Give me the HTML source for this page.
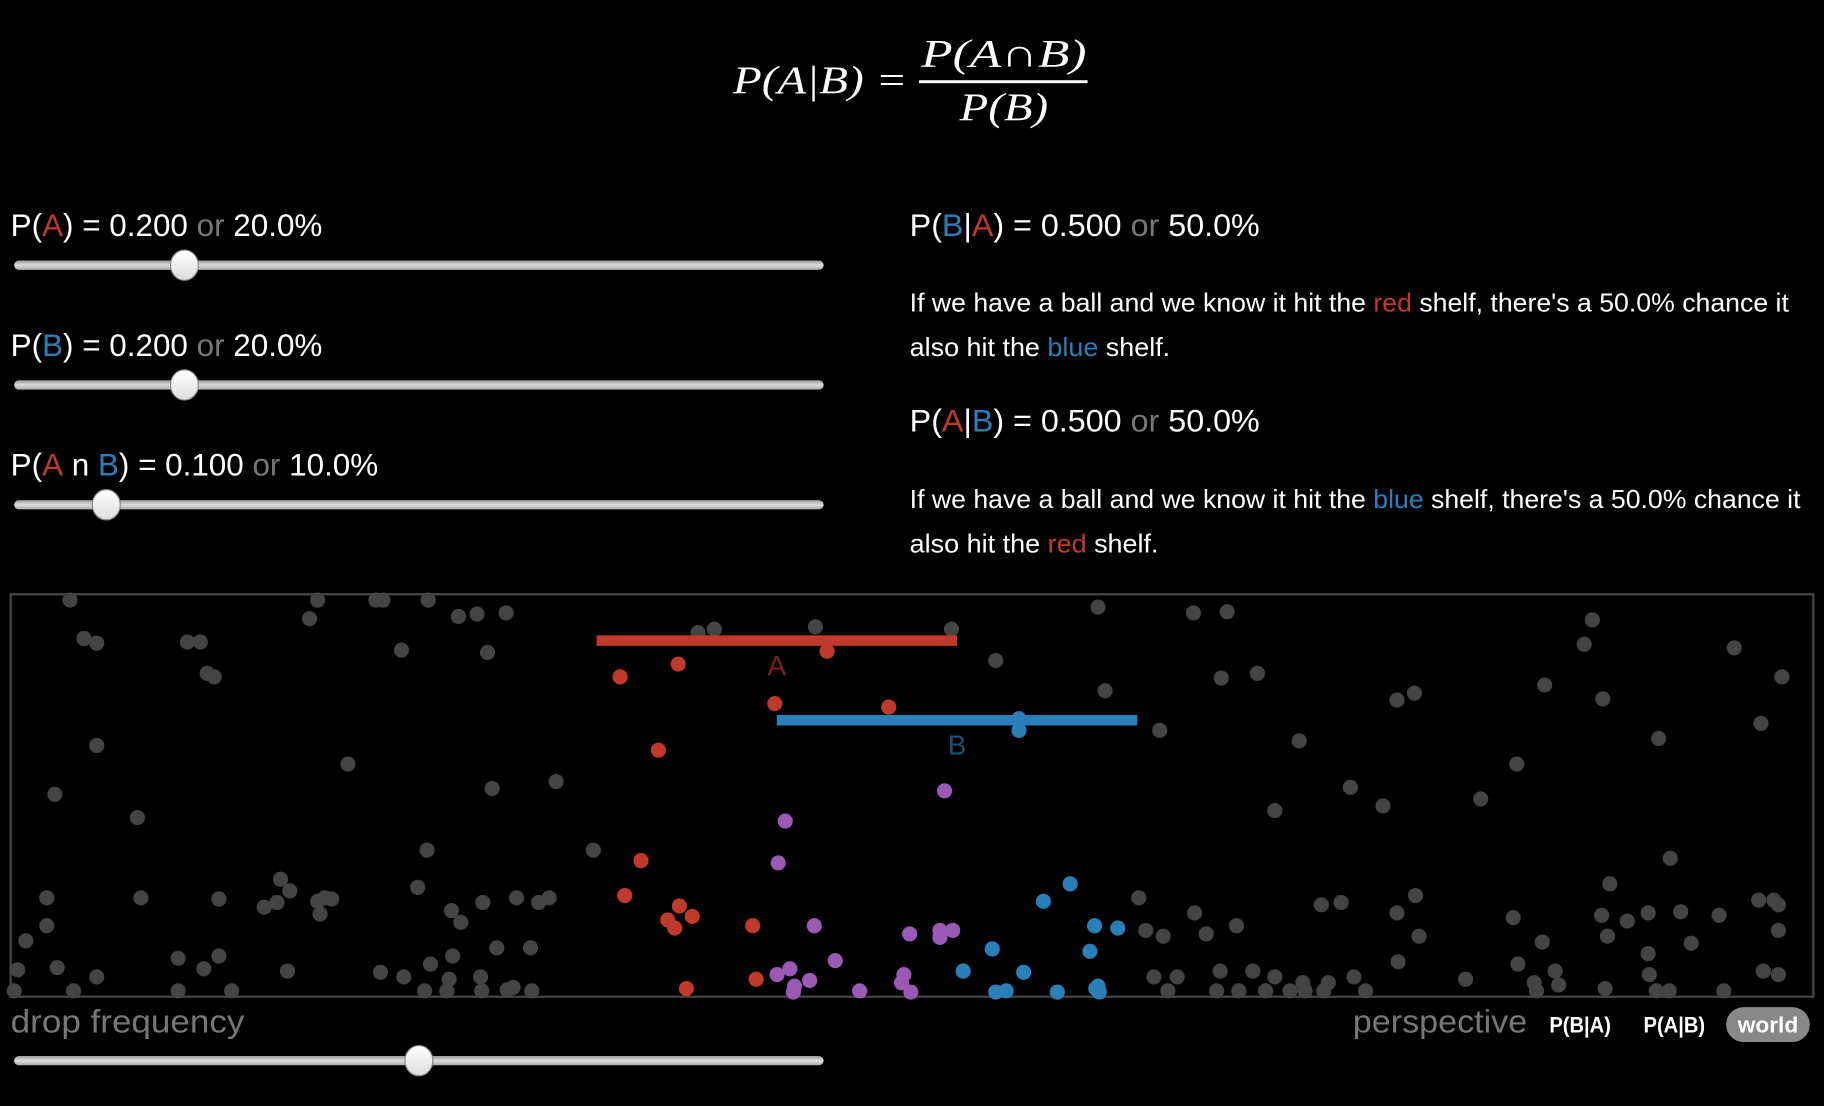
<!DOCTYPE html>
<html><head><meta charset="utf-8"><style>
html,body{margin:0;padding:0;background:#000;width:1824px;height:1106px;overflow:hidden}
svg{display:block}
text{font-family:"Liberation Sans",sans-serif}
.f{font-family:"Liberation Serif",serif;font-style:italic;fill:#fff}
</style></head><body>
<svg id="s" width="1824" height="1106" viewBox="0 0 1568 951" xmlns="http://www.w3.org/2000/svg">
<rect width="1568" height="951" fill="#000"/>
<g>
<text class="f" x="630" y="80" font-size="34" textLength="150" lengthAdjust="spacingAndGlyphs">P(A|B) =</text>
<text class="f" x="792" y="57" font-size="34" textLength="142" lengthAdjust="spacingAndGlyphs">P(A∩B)</text>
<rect x="790" y="69" width="145" height="2.5" fill="#fff"/>
<text class="f" x="825" y="103" font-size="34" textLength="76" lengthAdjust="spacingAndGlyphs">P(B)</text>
</g>
<g font-size="27" fill="#fff">
<text x="9" y="203" textLength="268" lengthAdjust="spacingAndGlyphs">P(<tspan fill="#c0392b">A</tspan>) = 0.200 <tspan fill="#777">or</tspan> 20.0%</text>
<text x="9" y="306" textLength="268" lengthAdjust="spacingAndGlyphs">P(<tspan fill="#2980b9">B</tspan>) = 0.200 <tspan fill="#777">or</tspan> 20.0%</text>
<text x="9" y="409" textLength="316" lengthAdjust="spacingAndGlyphs">P(<tspan fill="#c0392b">A</tspan> n <tspan fill="#2980b9">B</tspan>) = 0.100 <tspan fill="#777">or</tspan> 10.0%</text>
<text x="782" y="203" textLength="301" lengthAdjust="spacingAndGlyphs">P(<tspan fill="#2980b9">B</tspan>|<tspan fill="#c0392b">A</tspan>) = 0.500 <tspan fill="#777">or</tspan> 50.0%</text>
<text x="782" y="371" textLength="301" lengthAdjust="spacingAndGlyphs">P(<tspan fill="#c0392b">A</tspan>|<tspan fill="#2980b9">B</tspan>) = 0.500 <tspan fill="#777">or</tspan> 50.0%</text>
</g>
<g font-size="22" fill="#fff">
<text x="782" y="268" textLength="756" lengthAdjust="spacingAndGlyphs">If we have a ball and we know it hit the <tspan fill="#c0392b">red</tspan> shelf, there's a 50.0% chance it</text>
<text x="782" y="306" textLength="224" lengthAdjust="spacingAndGlyphs">also hit the <tspan fill="#2980b9">blue</tspan> shelf.</text>
<text x="782" y="437" textLength="766" lengthAdjust="spacingAndGlyphs">If we have a ball and we know it hit the <tspan fill="#2980b9">blue</tspan> shelf, there's a 50.0% chance it</text>
<text x="782" y="475" textLength="214" lengthAdjust="spacingAndGlyphs">also hit the <tspan fill="#c0392b">red</tspan> shelf.</text>
</g>
<g id="sliders"></g>
<rect x="9" y="511" width="1550" height="346" fill="#000" stroke="#444" stroke-width="2"/>
<g id="balls"></g>
<g id="shelves"></g>
<text x="9" y="888" font-size="28" fill="#777" textLength="201" lengthAdjust="spacingAndGlyphs">drop frequency</text>
<text x="1163" y="888" font-size="28" fill="#777" textLength="150" lengthAdjust="spacingAndGlyphs">perspective</text>
<text x="1332" y="888" font-size="19" font-weight="bold" fill="#fff" textLength="53" lengthAdjust="spacingAndGlyphs">P(B|A)</text>
<text x="1413" y="888" font-size="19" font-weight="bold" fill="#fff" textLength="53" lengthAdjust="spacingAndGlyphs">P(A|B)</text>
<g>
<rect x="1484" y="866" width="72" height="30" rx="15" fill="#888"/>
<text x="1494" y="888" font-size="19" font-weight="bold" fill="#fff" textLength="52" lengthAdjust="spacingAndGlyphs">world</text>
</g>
</svg>
<script>
// shelves (box-relative fractions)
const shelfNames = ['A','B'];
const shelfStart = [0.325, 0.425];
const shelfEnd = [0.525, 0.625];
const shelfHeight = [0.102, 0.30];
// slider values
const sliderNames = ['p-a-slider','p-b-slider','p-a-and-b-slider','drop-frequency-slider'];
const sliderValues = [0.2, 0.2, 0.1, 0.5];
// balls (box-relative pixel units, box is 1550 x 346)
const grayX = [51,264,314,320,359,63,74,152,163,257,385,401,426,336,410,169,175,74,290,38,109,414,469,591,605,692,809,847,935,1017,1046,941,988,1041,1072,1108,1087,1152,1180,1192,1207,1295,1264,1319,1353,1360,1369,1417,1482,1505,1523,1427,1375,358,501,232,350,31,112,179,240,264,276,218,229,270,435,454,463,406,379,387,266,31,13,418,447,144,179,6,40,74,166,238,318,338,361,380,377,404,432,427,448,356,375,405,190,54,144,970,1018,976,991,1028,1054,1127,1144,1192,1208,1211,1292,1317,1373,1368,1390,1408,1436,1469,1445,1503,1516,1520,1520,1408,1193,1296,1328,1331,983,1003,1040,1068,1087,1111,1133,1155,1251,1310,1371,1409,1507,1520,995,1037,1056,1079,1100,1113,1129,1165,1312,1415,1426,1473,3];
const grayY = [5,5,5,5,5,38,42,41,41,21,19,17,16,48,50,68,71,130,146,172,192,167,161,33,30,28,30,57,11,16,15,83,117,72,68,126,186,166,182,91,85,146,176,78,43,22,90,124,46,111,71,227,249,220,220,245,252,261,261,262,255,264,262,269,265,261,261,265,261,265,272,282,275,285,298,304,304,313,311,323,321,329,322,324,325,329,318,311,331,329,338,340,341,341,341,341,341,341,341,261,274,289,294,292,285,267,265,274,259,294,278,299,294,276,281,274,273,276,300,263,263,267,289,309,316,318,324,336,329,329,324,324,329,334,334,329,331,334,339,327,324,327,341,341,341,341,341,341,341,341,341,341,341,341,341];
const redX = [524,574,702,657,755,557,542,528,575,586,565,571,638,641,581];
const redY = [71,60,49,94,97,134,229,259,268,277,280,287,285,331,339];
const purpleX = [803,666,660,691,773,799,810,799,709,659,670,674,687,768,766,730,774,673];
const purpleY = [169,195,231,285,292,289,289,295,315,327,322,337,332,327,334,341,342,342];
const blueX = [867,867,911,888,932,952,844,928,819,871,935,933,847,856,900,936];
const blueY = [107,117,249,264,285,287,305,307,324,325,337,339,342,341,342,342];

const NS='http://www.w3.org/2000/svg';
const BX=9, BY=511, BW=1550, BH=346;
const sx=v=>BX+v, sy=v=>BY+v;
const fx=f=>BX+f*BW, fy=f=>BY+f*BH;
function mk(tag,attrs,parent){const e=document.createElementNS(NS,tag);for(const k in attrs)e.setAttribute(k,attrs[k]);parent.appendChild(e);return e;}
const balls=document.getElementById('balls');
function drawBalls(xs,ys,color,name){
  for(let i=0;i<xs.length;i++){
    const c=mk('circle',{cx:sx(xs[i]),cy:sy(ys[i]),r:6.5,fill:color},balls);
    
    
  }
}
drawBalls(grayX,grayY,'#444','gray-ball');
drawBalls(redX,redY,'#c0392b','red-ball');
drawBalls(purpleX,purpleY,'#9b59b6','purple-ball');
drawBalls(blueX,blueY,'#2980b9','blue-ball');
const shelves=document.getElementById('shelves');
const shelfColor=['#c0392b','#2980b9'], labelColor=['#7a2219','#1b4f72'];
for(let i=0;i<shelfNames.length;i++){
  const r=mk('rect',{x:fx(shelfStart[i]),y:fy(shelfHeight[i]),width:fx(shelfEnd[i])-fx(shelfStart[i]),height:9,fill:shelfColor[i]},shelves);
  
  
  const t=mk('text',{x:(fx(shelfStart[i])+fx(shelfEnd[i]))/2,y:fy(shelfHeight[i])+34,'font-size':24,'text-anchor':'middle',fill:labelColor[i]},shelves);
  t.textContent=shelfNames[i];
  
  
}
const sliders=document.getElementById('sliders');
const svg=document.getElementById('s');
const sliderY=[228,331,434,912];
const defs=mk('defs',{},sliders);
defs.innerHTML='<linearGradient id="tg" x1="0" y1="0" x2="0" y2="1"><stop offset="0" stop-color="#999"/><stop offset="0.5" stop-color="#ddd"/><stop offset="1" stop-color="#aaa"/></linearGradient><linearGradient id="hg" x1="0" y1="0" x2="0" y2="1"><stop offset="0" stop-color="#fff"/><stop offset="1" stop-color="#ddd"/></linearGradient>';
const X0=12, X1=708;
for(let i=0;i<sliderNames.length;i++){
  const g=mk('g',{},svg);
  
  
  mk('rect',{x:X0,y:sliderY[i]-4,width:X1-X0,height:8,rx:4,fill:'url(#tg)'},g);
  const cx=X0+12+(X1-X0-24)*sliderValues[i];
  mk('ellipse',{cx:cx,cy:sliderY[i],rx:12,ry:13,fill:'url(#hg)',stroke:'#888','stroke-width':1},g);
}
</script>
</body></html>
